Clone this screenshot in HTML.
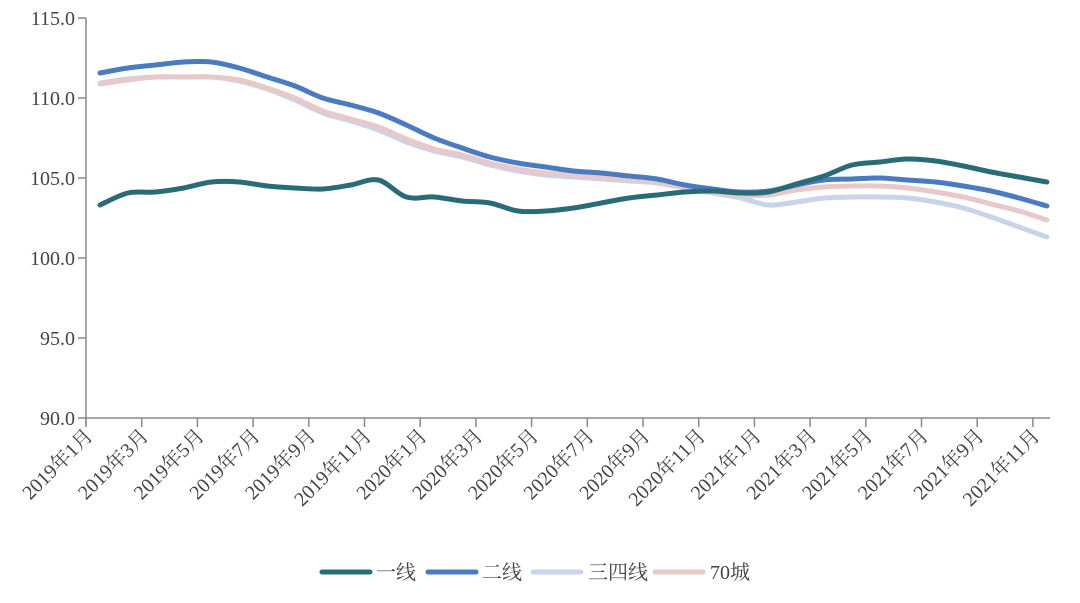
<!DOCTYPE html>
<html><head><meta charset="utf-8"><style>
body{margin:0;background:#fff;}
svg text{font-family:"Liberation Serif","Noto Serif CJK SC",serif;fill:#444;}
</style></head><body>
<svg id="s" width="1080" height="598" xmlns="http://www.w3.org/2000/svg">
<g stroke="#888" stroke-width="1.5" fill="none">
<line x1="86" y1="18" x2="86" y2="426"/>
<line x1="78" y1="418" x2="1050" y2="418"/>
<line x1="78" y1="18" x2="86" y2="18"/><line x1="78" y1="98" x2="86" y2="98"/>
<line x1="78" y1="178" x2="86" y2="178"/><line x1="78" y1="258" x2="86" y2="258"/>
<line x1="78" y1="338" x2="86" y2="338"/>
</g>
<g font-size="20" text-anchor="end">
<text x="75" y="25">115.0</text><text x="75" y="105">110.0</text><text x="75" y="185">105.0</text>
<text x="75" y="265">100.0</text><text x="75" y="345">95.0</text><text x="75" y="425">90.0</text>
</g>
<g id="xt"></g>
<g id="lines"></g>
<g stroke-width="5" stroke-linecap="round">
<line x1="322" y1="572" x2="370" y2="572" stroke="#2a6b78"/>
<line x1="428" y1="572" x2="476" y2="572" stroke="#4a7bc0"/>
<line x1="533" y1="572" x2="581" y2="572" stroke="#c8d4e8"/>
<line x1="655" y1="572" x2="703" y2="572" stroke="#e8c8c8"/>
</g>
<g font-size="20">
<text x="376" y="579">一线</text><text x="482" y="579">二线</text>
<text x="588" y="579">三四线</text><text x="710" y="579">70城</text>
</g>
</svg>
<script>
var NS="http://www.w3.org/2000/svg";
var xt=document.getElementById('xt');
var labels=["2019年1月","2019年3月","2019年5月","2019年7月","2019年9月","2019年11月","2020年1月","2020年3月","2020年5月","2020年7月","2020年9月","2020年11月","2021年1月","2021年3月","2021年5月","2021年7月","2021年9月","2021年11月"];
var step=27.85;
for(var i=0;i<18;i++){var x=86+i*2*step;
var l=document.createElementNS(NS,'line');l.setAttribute('x1',x);l.setAttribute('x2',x);l.setAttribute('y1',418);l.setAttribute('y2',427);l.setAttribute('stroke','#888');l.setAttribute('stroke-width','1.5');xt.appendChild(l);
var t=document.createElementNS(NS,'text');t.setAttribute('font-size','20');t.setAttribute('text-anchor','end');t.setAttribute('transform','translate('+(x+8)+',437) rotate(-45)');t.textContent=labels[i];xt.appendChild(t);}
var teal=[205,193,192,188,182,182,186,188,189,185,180,197,197,201,203,211,211,208,203,198,195,192,191,193,192,184,176,165,162,159,161,166,172,177,182];
var blue=[73,68,65,62,62,68,77,86,98,105,113,125,138,148,157,163,167,171,173,176,179,185,189,192,191,185,180,179,178,180,182,186,191,198,206];
var pink=[84,80,77,77,77,80,88,98,111,119,127,139,149,155,163,169,173,175,177,179,182,187,192,195,195,190,187,186,186,188,192,197,204,211,220];
var light=[83,79,77,77,77,81,89,100,113,121,130,142,151,157,165,171,175,177,179,181,183,188,193,198,205,202,198,197,197,198,202,208,217,227,237];
function path(ys){var p=ys.map(function(y,i){return[100+i*step,y];});var d='M'+p[0][0]+','+p[0][1];
for(var i=0;i<p.length-1;i++){var p0=p[i-1]||p[i],p1=p[i],p2=p[i+1],p3=p[i+2]||p2;
d+=' C'+(p1[0]+(p2[0]-p0[0])/6)+','+(p1[1]+(p2[1]-p0[1])/6)+' '+(p2[0]-(p3[0]-p1[0])/6)+','+(p2[1]-(p3[1]-p1[1])/6)+' '+p2[0]+','+p2[1];}return d;}
var g=document.getElementById('lines');
[[light,'#c8d4e8'],[pink,'#e8c8c8'],[blue,'#4a7bc0'],[teal,'#2a6b78']].forEach(function(s){
var e=document.createElementNS(NS,'path');e.setAttribute('d',path(s[0]));e.setAttribute('fill','none');e.setAttribute('stroke',s[1]);e.setAttribute('stroke-width','5');e.setAttribute('stroke-linecap','round');e.setAttribute('stroke-linejoin','round');g.appendChild(e);});
</script>
</body></html>
